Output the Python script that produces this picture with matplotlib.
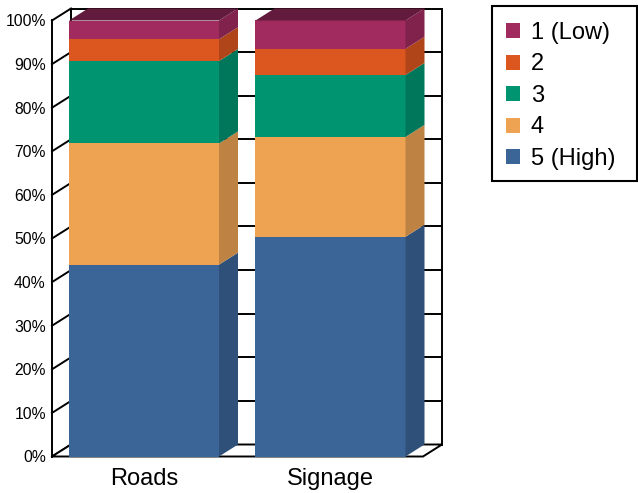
import matplotlib.pyplot as plt
from matplotlib.patches import Polygon, Rectangle

plt.rcParams["font.family"] = ["Liberation Sans", "DejaVu Sans"]

categories = ["Roads", "Signage"]
levels = ["5 (High)", "4", "3", "2", "1 (Low)"]
# percent per level, bottom (5) to top (1)
roads = [44.0, 27.8, 18.9, 5.0, 4.3]
signage = [50.4, 22.9, 14.2, 6.0, 6.5]

front_colors = ["#3B6597", "#EEA353", "#009471", "#DC5720", "#A12B5F"]
side_colors = ["#2F5079", "#BE8242", "#00775A", "#AF4519", "#81224C"]
top_color = "#621A3D"

yticks = list(range(0, 101, 10))

W, H = 638, 493
fig = plt.figure(figsize=(W / 100, H / 100), dpi=100)

# depth of the fake 3D, in data units
px_x = 186.5
px_y = 4.36
dx = 19 / px_x
dy = 12 / px_y
bar_w = 150 / px_x
xl = -92 / px_x
xr = 1 + 92.5 / px_x

ax_left = 52
ax_w = (xr + dx - xl) * px_x
ax_bottom = H - 456.5
ax_h = (100 + dy) * px_y
ax = fig.add_axes([ax_left / W, ax_bottom / H, ax_w / W, ax_h / H])
ax.set_xlim(xl, xr + dx)
ax.set_ylim(0, 100 + dy)
for s in ax.spines.values():
    s.set_visible(False)

lw = 1.4
# back wall with gridlines
for k in yticks:
    ax.plot([xl + dx, xr + dx], [k + dy, k + dy], color="black", lw=lw,
            clip_on=False, zorder=1, solid_capstyle="butt")
ax.plot([xr + dx, xr + dx], [dy, 100 + dy], color="black", lw=lw, clip_on=False, zorder=1)
ax.plot([xl + dx, xl + dx], [dy, 100 + dy], color="black", lw=lw, clip_on=False, zorder=1)

# floor
ax.add_patch(Polygon([(xl, 0), (xr, 0), (xr + dx, dy), (xl + dx, dy)], closed=True,
                     facecolor="white", edgecolor="black", lw=lw, zorder=1.5, clip_on=False))

# left wall
ax.plot([xl, xl], [0, 100], color="black", lw=lw, clip_on=False, zorder=1)
for k in yticks:
    ax.plot([xl, xl + dx], [k, k + dy], color="black", lw=lw, clip_on=False, zorder=1)

# bars
for i, vals in enumerate([roads, signage]):
    bottom = 0
    for j, v in enumerate(vals):
        ax.bar(i, v, bottom=bottom, width=bar_w, color=front_colors[j], zorder=3 + i)
        xe = i + bar_w / 2
        ax.add_patch(Polygon([(xe, bottom), (xe + dx, bottom + dy), (xe + dx, bottom + v + dy),
                              (xe, bottom + v)], closed=True, facecolor=side_colors[j],
                             edgecolor="none", zorder=3 + i, clip_on=False))
        bottom += v
    xs = i - bar_w / 2
    ax.add_patch(Polygon([(xs, bottom), (xs + dx, bottom + dy), (xe + dx, bottom + dy),
                          (xe, bottom)], closed=True, facecolor=top_color,
                         edgecolor="none", zorder=3 + i, clip_on=False))

ax.set_yticks(yticks)
ax.set_yticklabels([f"{k}%" for k in yticks], fontsize=11.3)
ax.set_xticks(range(len(categories)))
ax.set_xticklabels(categories, fontsize=17)
ax.tick_params(axis="y", length=0, pad=4.5)
ax.tick_params(axis="x", length=0, pad=8)

# legend: fixed-size frame like the original, entries placed inside
fig.add_artist(Rectangle((492 / W, 1 - 181 / H), 145 / W, 175 / H,
                         transform=fig.transFigure, facecolor="white",
                         edgecolor="black", lw=1.5))
handles = [Rectangle((0, 0), 1, 1, facecolor=c) for c in front_colors[::-1]]
leg = fig.legend(handles, levels[::-1], loc="upper left",
                 bbox_to_anchor=(506 / W, 1 - 22 / H), fontsize=17,
                 frameon=False, borderpad=0, labelspacing=0.40,
                 handlelength=0.6, handleheight=0.6, handletextpad=0.45,
                 borderaxespad=0)

fig.savefig("out.png", dpi=100)
